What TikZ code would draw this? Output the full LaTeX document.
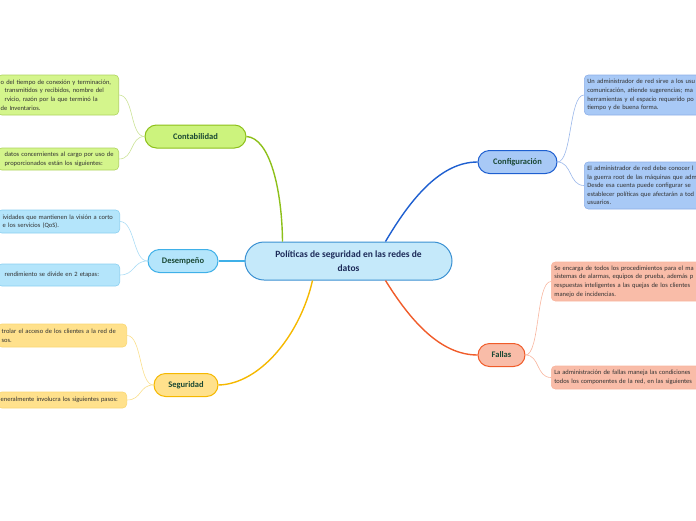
\documentclass[tikz,border=0pt]{standalone}
\usepackage{fontspec}
\setmainfont{Carlito}
\usepackage{tikz}
\usetikzlibrary{positioning}
\definecolor{rootfill}{RGB}{197, 233, 250}
\definecolor{rootline}{RGB}{58, 144, 210}
\definecolor{rootink}{RGB}{28, 42, 88}
\definecolor{topicink}{RGB}{26, 72, 52}
\definecolor{leafink}{RGB}{50, 50, 50}
\definecolor{cogreen}{RGB}{141, 192, 26}
\definecolor{cogreenf}{RGB}{204, 243, 125}
\definecolor{cogreenl}{RGB}{212, 245, 140}
\definecolor{deblue}{RGB}{63, 176, 232}
\definecolor{debluef}{RGB}{180, 229, 251}
\definecolor{seyel}{RGB}{245, 184, 0}
\definecolor{seyelf}{RGB}{255, 225, 140}
\definecolor{cfblue}{RGB}{30, 95, 208}
\definecolor{cfbluef}{RGB}{168, 201, 246}
\definecolor{faorg}{RGB}{240, 92, 42}
\definecolor{faorgf}{RGB}{249, 188, 168}
\newcommand{\leaffont}{\fontsize{6.5}{8.6}\selectfont\spaceskip=0.2em plus 0.05em\relax}

\begin{document}
\begin{tikzpicture}[x=1pt, y=-1pt,
  topic/.style={draw, line width=1pt, rounded corners=11.5pt, minimum height=23pt,
    inner sep=0pt, font=\fontsize{8.5}{10}\selectfont\bfseries, text=topicink},
  leaf/.style={draw, line width=0.6pt, rounded corners=4pt, inner xsep=3pt, inner ysep=0pt,
    align=left, font=\leaffont, text=leafink},
  branch/.style={line width=1.4pt},
  twig/.style={line width=0.6pt}]

  \useasboundingbox (0,0) rectangle (696,520);
  \clip (0,0) rectangle (696,520);

  % --- central idea ---
  \node[draw=rootline, fill=rootfill, line width=1pt, rounded corners=19pt,
    minimum width=207pt, minimum height=38pt, inner sep=0pt, align=center,
    font=\fontsize{9.5}{14}\selectfont\bfseries, text=rootink] (root) at (348.5,261)
    {Políticas de seguridad en las redes de\\datos};

  % --- main topics ---
  \node[topic, draw=cogreen, fill=cogreenf, minimum width=101pt] (contab) at (195.5,136.5) {Contabilidad};
  \node[topic, draw=deblue, fill=debluef, minimum width=70pt] (desemp) at (183,261) {Desempeño};
  \node[topic, draw=seyel, fill=seyelf, minimum width=64pt] (segur) at (186,385) {Seguridad};
  \node[topic, draw=cfblue, fill=cfbluef, minimum width=79pt] (config) at (517.5,162) {Configuración};
  \node[topic, draw=faorg, fill=faorgf, minimum width=47pt] (fallas) at (501.5,355) {Fallas};

  % --- left leaves ---
  \node[leaf, draw=cogreen!70, fill=cogreenl, anchor=east, minimum height=40pt, text width=115pt] (contabA) at (119,95)
    {o del tiempo de conexión y terminación,\\\hspace*{4pt}transmitidos y recibidos, nombre del\\\hspace*{4pt}rvicio, razón por la que terminó la\\de Inventarios.};
  \node[leaf, draw=cogreen!70, fill=cogreenl, anchor=east, minimum height=22pt, text width=115pt] (contabB) at (119,159)
    {\hspace*{4pt}datos concernientes al cargo por uso de\\\hspace*{4pt}proporcionados están los siguientes:};

  \node[leaf, draw=deblue!60, fill=debluef, anchor=east, minimum height=23pt, text width=116pt] (desempA) at (120,221.5)
    {\hspace*{2pt}ividades que mantienen la visión a corto\\\hspace*{2pt}e los servicios (QoS).};
  \node[leaf, draw=deblue!60, fill=debluef, anchor=east, minimum height=22pt, text width=116pt] (desempB) at (120,275)
    {\hspace*{4pt}rendimiento se divide en 2 etapas:};

  \node[leaf, draw=seyel!55, fill=seyelf, anchor=east, minimum height=23pt, text width=123pt] (segurA) at (127,335.5)
    {\hspace*{1pt}trolar el acceso de los clientes a la red de\\\hspace*{1pt}sos.};
  \node[leaf, draw=seyel!55, fill=seyelf, anchor=east, minimum height=16pt, text width=123pt] (segurB) at (127,400)
    {eneralmente involucra los siguientes pasos:};

  % --- right leaves ---
  \node[leaf, draw=cfblue!50, fill=cfbluef, anchor=west, minimum height=40pt, text width=170pt] (configA) at (584,95)
    {Un administrador de red sirve a los usu\\comunicación, atiende sugerencias; ma\\herramientas y el espacio requerido po\\tiempo y de buena forma.};
  \node[leaf, draw=cfblue!50, fill=cfbluef, anchor=west, minimum height=47pt, text width=170pt] (configB) at (584,185.5)
    {El administrador de red debe conocer l\\la guerra root de las máquinas que adm\\Desde esa cuenta puede configurar se\\establecer políticas que afectarán a tod\\usuarios.};

  \node[leaf, draw=faorg!45, fill=faorgf, anchor=west, minimum height=39pt, text width=170pt] (fallasA) at (551,281.5)
    {Se encarga de todos los procedimientos para el ma\\sistemas de alarmas, equipos de prueba, además p\\respuestas inteligentes a las quejas de los clientes\\manejo de incidencias.};
  \node[leaf, draw=faorg!45, fill=faorgf, anchor=west, minimum height=23pt, text width=170pt] (fallasB) at (551,377.5)
    {La administración de fallas maneja las condiciones\\todos los componentes de la red, en las siguientes};

  % --- branches from the central idea ---
  \draw[branch, cogreen] (root.north west) ++(38,0) coordinate (rcA)
    .. controls (282,190) and (270,138) .. (contab.east);
  \draw[branch, deblue] (root.west) -- (desemp.east);
  \draw[branch, seyel] (root.south west) ++(68,0) coordinate (rcB)
    .. controls (300,335) and (260,384) .. (segur.east);
  \draw[branch, cfblue] (root.north east) ++(-67,0) coordinate (rcC)
    .. controls (410,200) and (440,162) .. (config.west);
  \draw[branch, faorg] (root.south east) ++(-67,0) coordinate (rcD)
    .. controls (410,320) and (440,355) .. (fallas.west);

  % --- twigs to the leaves ---
  \draw[twig, cogreen!45] (contab.west) .. controls (130,136.5) and (134,95) .. (contabA.east);
  \draw[twig, cogreen!45] (contab.west) .. controls (130,136.5) and (134,159) .. (contabB.east);
  \draw[twig, deblue!45] (desemp.west) .. controls (133,261) and (135,221.5) .. (desempA.east);
  \draw[twig, deblue!45] (desemp.west) .. controls (133,261) and (135,275) .. (desempB.east);
  \draw[twig, seyel!45] (segur.west) .. controls (139,385) and (142,335.5) .. (segurA.east);
  \draw[twig, seyel!45] (segur.west) .. controls (139,385) and (142,400) .. (segurB.east);
  \draw[twig, cfblue!45] (config.east) .. controls (572,162) and (569,95) .. (configA.west);
  \draw[twig, cfblue!45] (config.east) .. controls (572,162) and (569,185.5) .. (configB.west);
  \draw[twig, faorg!45] (fallas.east) .. controls (540,355) and (536,281.5) .. (fallasA.west);
  \draw[twig, faorg!45] (fallas.east) .. controls (540,355) and (536,377.5) .. (fallasB.west);

\end{tikzpicture}
\end{document}
